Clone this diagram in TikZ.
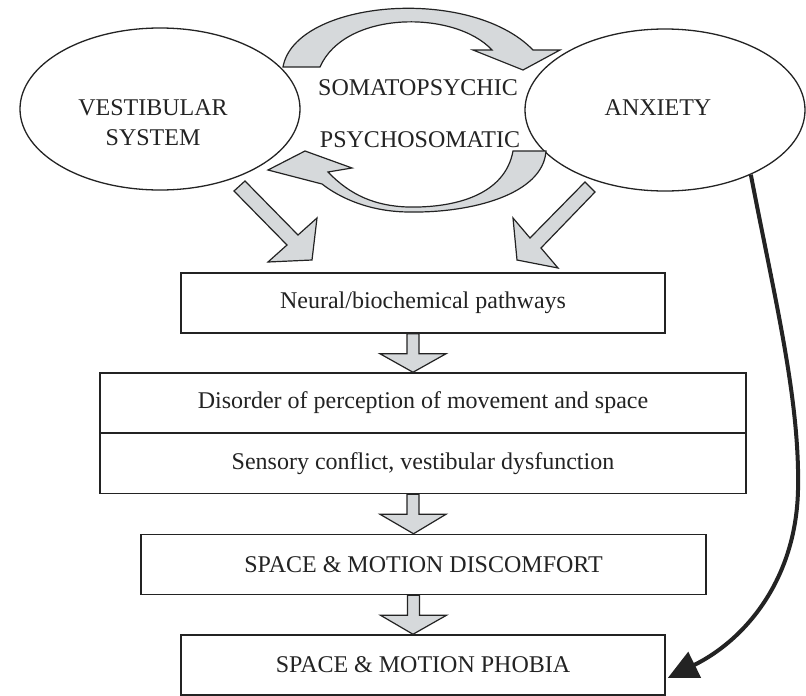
\documentclass[tikz,border=0pt]{standalone}
\usepackage{fontspec}
\setmainfont{Liberation Serif}
\usetikzlibrary{shapes.geometric,arrows.meta,calc}
\definecolor{blockgray}{RGB}{214,217,219}
\definecolor{ink}{RGB}{35,35,35}
\newcommand{\sarrowblk}[2]{%
  \draw[blk] ($(#1.south)+(-16,0)$) -- ++(0,20) -- ++(-27,0) -- ($(#2.north)+(-10,0)$)
    -- ($(#1.south)+(23,20)$) -- ++(-27,0) -- ($(#1.south)+(-4,0)$) -- cycle;}
\begin{document}
\begin{tikzpicture}[x=1pt,y=-1pt, font=\fontsize{24}{30}\selectfont, color=ink,
  ell/.style={draw=ink, ellipse, line width=1.3pt, minimum width=280pt, minimum height=162pt, inner sep=0pt},
  box/.style={draw=ink, line width=1.5pt, minimum height=60pt, inner sep=0pt},
  blk/.style={draw=ink, line width=1.2pt, fill=blockgray, line join=miter},
  lbl/.style={inner sep=0pt, align=center, text=ink}]
\useasboundingbox (0,0) rectangle (806,696);
\fill[white] (0,0) rectangle (806,696);

% ellipses
\node[ell] (vs) at (160,109) {};
\node[ell] (ax) at (665,110) {};
\node[lbl] (vst) at (153,123) {VESTIBULAR\\SYSTEM};
\node[lbl] (axt) at (658,108) {ANXIETY};
\node[lbl] (soma) at (418,88) {SOMATOPSYCHIC};
\node[lbl] (psycho) at (420,140) {PSYCHOSOMATIC};

% boxes
\node[box, minimum width=484pt] (neural) at (423,303) {Neural/biochemical pathways};
\node[box, minimum width=646pt] (disorder) at (423,403) {Disorder of perception of movement and space};
\node[box, minimum width=646pt] (sensory) at (423,463.5) {Sensory conflict, vestibular dysfunction};
\node[box, minimum width=565pt] (discomfort) at (423.5,564.5) {SPACE \& MOTION DISCOMFORT};
\node[box, minimum width=484pt] (phobia) at (423,665) {SPACE \& MOTION PHOBIA};

% curved block arrows
\draw[blk] (283,67) .. controls (295,0) and (470,-15) .. (533,50) -- (560,50) -- (523,70)
  -- (473,50) -- (492,50) .. controls (455,10) and (345,10) .. (320,67) -- cycle;
\draw[blk] (268,170) -- (305,151) -- (352,168) -- (328,172)
  .. controls (350,195) and (375,206) .. (408,207)
  .. controls (455,208) and (505,195) .. (513,151) -- (546,151)
  .. controls (543,195) and (470,213) .. (410,212)
  .. controls (370,212) and (340,198) .. (322,184) -- cycle;

% diagonal block arrows
\draw[blk] (234,191) -- (287,245) -- (268,262) -- (312,260) -- (317,218) -- (298,235) -- (245,181) -- cycle;
\draw[blk] (585,182) -- (530,238) -- (513,218) -- (517,260) -- (558,268) -- (541,248) -- (595,192) -- cycle;

% small down arrows
\sarrowblk{neural}{disorder}
\sarrowblk{sensory}{discomfort}
\sarrowblk{discomfort}{phobia}

% long black arrow
\coordinate (endc) at ($(phobia.east)+(2,13)$);
\draw[draw=ink, line width=4pt, -{Triangle[length=30pt,width=28pt]}] (ax.-37)
  .. controls (775,300) and (800,400) .. (798,490)
  .. controls (796,580) and (745,640) .. (endc);
\end{tikzpicture}
\end{document}
